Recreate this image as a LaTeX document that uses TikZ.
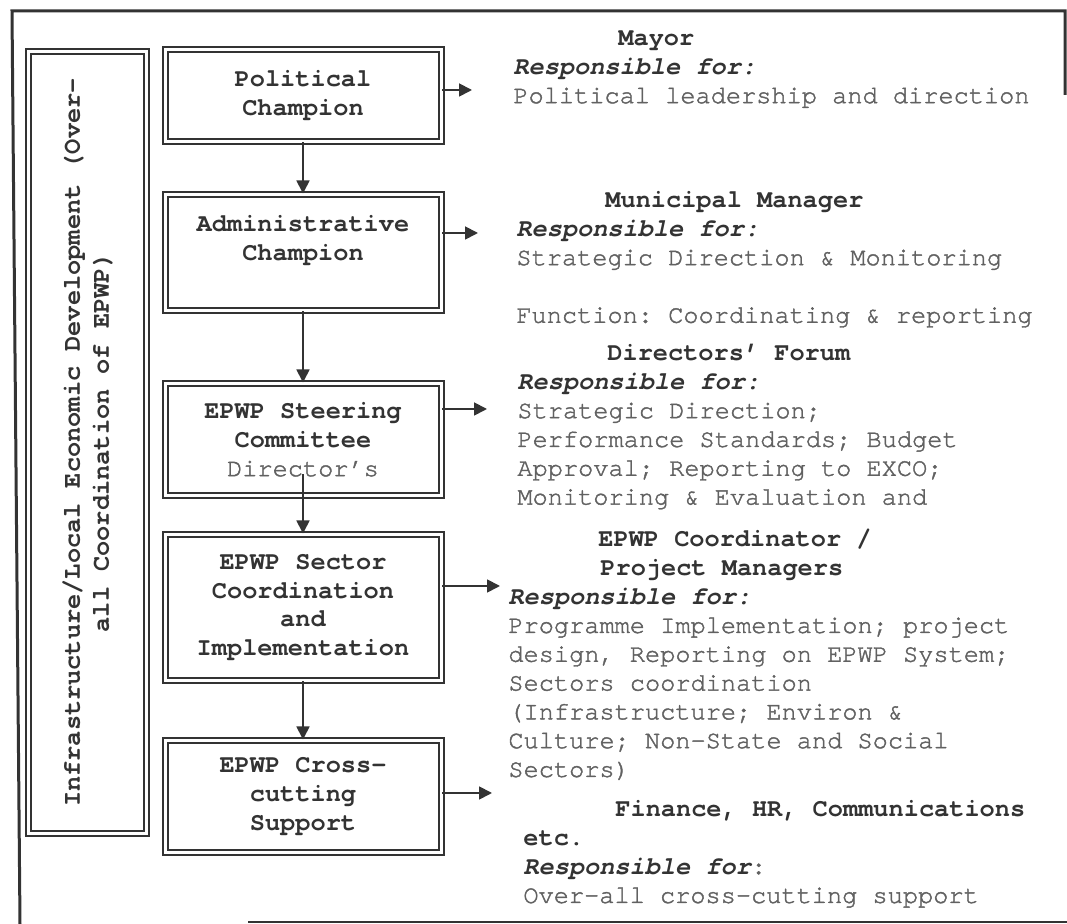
\documentclass[tikz,border=0pt]{standalone}
\usepackage{fontspec}
\setmainfont{texgyrecursor}[Extension=.otf, UprightFont=*-regular, BoldFont=*-bold,
    ItalicFont=*-italic, BoldItalicFont=*-bolditalic, UprightFeatures={FakeBold=1.6}]
\usetikzlibrary{positioning,arrows.meta}

\definecolor{ink}{gray}{0.2}
\definecolor{faded}{gray}{0.38}
\newcommand{\head}[2]{\hspace*{#1}\textbf{\color{ink}#2}}
\newcommand{\respfor}{\textbf{\textit{\color{ink}Responsible for:}}}
\frenchspacing

\begin{document}
\begin{tikzpicture}[x=0.5pt, y=-0.5pt, >={Triangle[length=6.5pt,width=6.5pt]},
    every node/.style={font=\fontsize{12.65}{14.4}\selectfont},
    champ/.style={draw=ink, double, line width=1pt, double distance=1.5pt, minimum width=138pt,
        align=center, text=ink, font=\fontsize{12.65}{14.4}\selectfont\bfseries},
    duty/.style={anchor=north west, align=left, inner sep=0pt, text=faded},
    link/.style={->, draw=ink, line width=0.9pt}]
    \useasboundingbox (0,0) rectangle (1067,924);

    % Frame
    \draw[ink, line width=1.5pt] (1065,95) -- (1065,11) -- (12,11) -- (20,924);
    \draw[ink, line width=0.8pt] (248,922) -- (1067,922);

    % Nodes
    \node (lead) [champ, rotate=90, minimum width=391pt, minimum height=59pt] at (87.5,442.5)
        {Infrastructure/Local Economic Development (Over-\\all Coordination of EPWP)};
    \node (pol) [champ, minimum height=46pt] at (303,95.5) {Political\\Champion};
    \node (adm) [champ, minimum height=58pt, below=25.5pt of pol] {Administrative\\Champion\\\mbox{}};
    \node (steer) [champ, minimum height=56pt, below=35.5pt of adm] {EPWP Steering\\Committee\\{\mdseries\color{faded}Director’s}};
    \node (sector) [champ, minimum height=73pt, below=18.5pt of steer] {EPWP Sector\\Coordination\\and\\Implementation};
    \node (cross) [champ, minimum height=56pt, below=29pt of sector] {EPWP Cross-\\cutting\\Support};

    % Duties
    \node (mayor) [duty] at (513,25) {\strut\head{52.5pt}{Mayor}\\ \respfor\\ Political leadership and direction};
    \node (mm) [duty] at (516,187) {\strut\head{44.5pt}{Municipal Manager}\\ \respfor\\
        Strategic Direction \& Monitoring\\[14.4pt] Function: Coordinating \& reporting};
    \node (forum) [duty] at (517,340) {\strut\head{45pt}{Directors’ Forum}\\ \respfor\\ Strategic Direction;\\
        Performance Standards; Budget\\ Approval; Reporting to EXCO;\\ Monitoring \& Evaluation and};
    \node (coord) [duty] at (508,526) {\strut\head{45pt}{EPWP Coordinator /}\\ \head{46pt}{Project Managers}\\ \respfor\\
        Programme Implementation; project\\ design, Reporting on EPWP System;\\ Sectors coordination\\
        (Infrastructure; Environ \&\\ Culture; Non-State and Social\\ Sectors)};
    \node (fin) [duty] at (523,796) {\strut\head{46pt}{Finance, HR, Communications}\\ \textbf{\color{ink}etc.}\\
        \textbf{\textit{\color{ink}Responsible for}}:\\ Over-all cross-cutting support};

    % Arrows down the column
    \draw[link] (pol) -- (adm);
    \draw[link] (adm) -- (steer);
    \draw[link] ([yshift=11pt]steer.south) -- (sector);
    \draw[link] (sector) -- (cross);

    % Arrows to the duties
    \coordinate (tomayor) at (472,90);
    \coordinate (tomm) at (478,233);
    \coordinate (toforum) at (487,409);
    \coordinate (tocoord) at (500,586);
    \coordinate (tofin) at (492,793);
    \draw[link] (pol.east |- tomayor) -- (tomayor);
    \draw[link] (adm.east |- tomm) -- (tomm);
    \draw[link] (steer.east |- toforum) -- (toforum);
    \draw[link] (sector.east |- tocoord) -- (tocoord);
    \draw[link] (cross.east |- tofin) -- (tofin);
\end{tikzpicture}
\end{document}
